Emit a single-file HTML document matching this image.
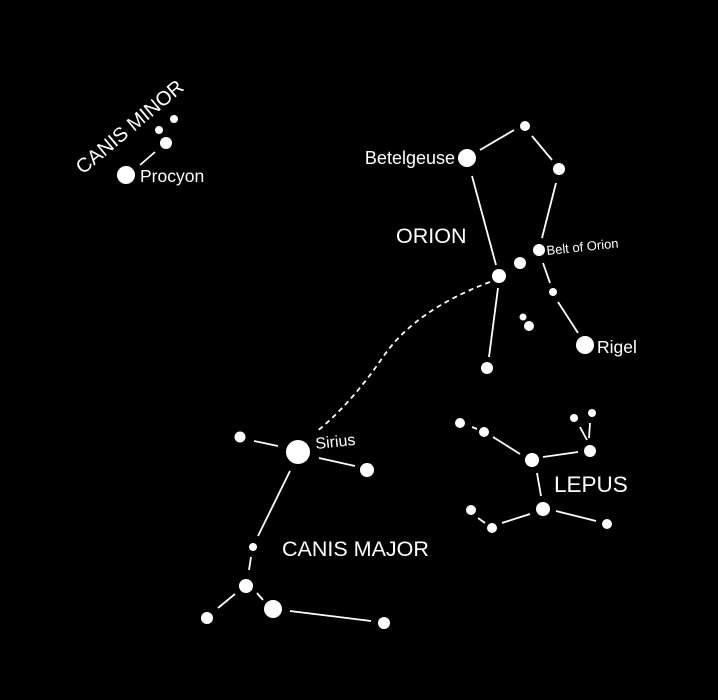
<!DOCTYPE html>
<html><head><style>html,body{margin:0;background:#000;}</style></head>
<body>
<svg width="718" height="700" viewBox="0 0 718 700" xmlns="http://www.w3.org/2000/svg" style="display:block">
<rect width="718" height="700" fill="#000"/>
<g stroke="#fff" stroke-width="1.8" fill="none">
<line x1="140" y1="165" x2="155" y2="152"/>
<line x1="480" y1="150" x2="514" y2="130"/>
<line x1="532" y1="136" x2="552" y2="160"/>
<line x1="556" y1="183" x2="542" y2="238"/>
<line x1="472" y1="176" x2="496" y2="265"/>
<line x1="543" y1="263" x2="550" y2="283"/>
<line x1="558" y1="302" x2="578" y2="333"/>
<line x1="498" y1="288" x2="489" y2="357"/>
<path d="M490 282 Q415 310 383 357 Q350 405 316 432" stroke-dasharray="5 4"/>
<line x1="254" y1="441" x2="278" y2="446"/>
<line x1="319" y1="458" x2="355" y2="466"/>
<line x1="290" y1="471" x2="258" y2="536"/>
<line x1="251" y1="557" x2="249" y2="570"/>
<line x1="235" y1="594" x2="218" y2="608"/>
<line x1="257" y1="593" x2="263" y2="600"/>
<line x1="290" y1="611" x2="371" y2="621"/>
<line x1="472" y1="427" x2="477" y2="429"/>
<line x1="493" y1="437" x2="520" y2="454"/>
<line x1="543" y1="457" x2="578" y2="452"/>
<line x1="580" y1="427" x2="587" y2="440"/>
<line x1="590" y1="423" x2="589" y2="438"/>
<line x1="537" y1="473" x2="541" y2="496"/>
<line x1="478" y1="518" x2="485" y2="523"/>
<line x1="502" y1="523" x2="530" y2="514"/>
<line x1="556" y1="511" x2="596" y2="521"/>
</g>
<g fill="#fff">
<circle cx="126" cy="175" r="9"/><circle cx="166" cy="143" r="6"/><circle cx="159" cy="130" r="4"/><circle cx="174" cy="119" r="4"/>
<circle cx="525" cy="126" r="5"/><circle cx="467" cy="158" r="9"/><circle cx="559" cy="169" r="6"/><circle cx="539" cy="250" r="6"/><circle cx="520" cy="263" r="6"/><circle cx="499" cy="276" r="7"/><circle cx="553" cy="292" r="4"/><circle cx="523" cy="317" r="3.5"/><circle cx="529" cy="326" r="5"/><circle cx="585" cy="345" r="9"/><circle cx="487" cy="368" r="6"/>
<circle cx="240" cy="437" r="5.5"/><circle cx="298" cy="452" r="12"/><circle cx="367" cy="470" r="7"/><circle cx="253" cy="547" r="4"/><circle cx="246" cy="586" r="7"/><circle cx="273" cy="609" r="9"/><circle cx="207" cy="618" r="6"/><circle cx="384" cy="623" r="6"/>
<circle cx="460" cy="423" r="5"/><circle cx="484" cy="432" r="5"/><circle cx="532" cy="460" r="7"/><circle cx="590" cy="451" r="6"/><circle cx="574" cy="418" r="4"/><circle cx="592" cy="413" r="4"/><circle cx="543" cy="509" r="7"/><circle cx="471" cy="510" r="5"/><circle cx="492" cy="528" r="5"/><circle cx="607" cy="524" r="5"/>
</g>
<g fill="#fff" font-family="Liberation Sans, sans-serif">
<text x="0" y="0" font-size="20" text-anchor="middle" transform="translate(134,132) rotate(-40)">CANIS MINOR</text>
<text x="140" y="182" font-size="17.5">Procyon</text>
<text x="455" y="164" font-size="18" text-anchor="end">Betelgeuse</text>
<text x="396" y="243" font-size="21.5">ORION</text>
<text x="0" y="0" font-size="13" transform="translate(547,255) rotate(-6)">Belt of Orion</text>
<text x="597" y="353" font-size="17.5">Rigel</text>
<text x="0" y="0" font-size="16" transform="translate(316,449) rotate(-6)">Sirius</text>
<text x="282" y="556" font-size="21.5">CANIS MAJOR</text>
<text x="554" y="492" font-size="22.5">LEPUS</text>
</g>
</svg>
</body></html>
